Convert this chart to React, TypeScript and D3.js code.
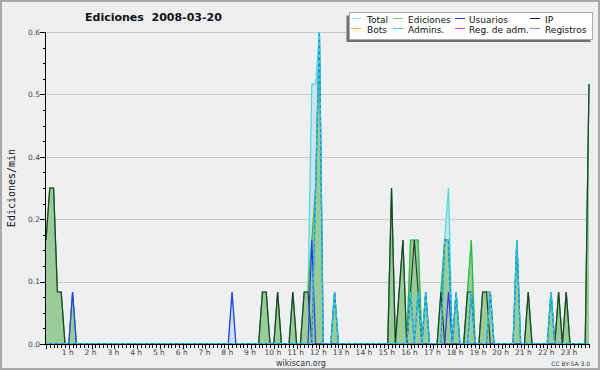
import React from 'react';
import * as d3 from 'd3';

// 10-minute bins (144 per day), values in edits/min
const totalValues = [
  0.2, 0.3, 0.3, 0.1, 0.1, 0, 0, 0.1, 0, 0, 0, 0,
  0, 0, 0, 0, 0, 0, 0, 0, 0, 0, 0, 0,
  0, 0, 0, 0, 0, 0, 0, 0, 0, 0, 0, 0,
  0, 0, 0, 0, 0, 0, 0, 0, 0, 0, 0, 0,
  0, 0.1, 0, 0, 0, 0, 0, 0, 0, 0.1, 0.1, 0,
  0, 0.1, 0, 0, 0, 0.1, 0, 0, 0.1, 0.1, 0.5, 0.5,
  0.6, 0, 0, 0, 0.1, 0, 0, 0, 0, 0, 0, 0,
  0, 0, 0, 0, 0, 0, 0, 0.3, 0, 0.1, 0.2, 0,
  0.2, 0.2, 0.2, 0, 0.1, 0, 0, 0, 0.1, 0.2, 0.3, 0,
  0.1, 0, 0, 0.1, 0.2, 0, 0, 0.1, 0.1, 0.1, 0, 0,
  0, 0, 0, 0, 0.2, 0, 0, 0.1, 0, 0, 0, 0,
  0, 0.1, 0, 0.1, 0, 0.1, 0, 0, 0, 0, 0, 0.5,
];

const editValues = [
  0.2, 0.3, 0.3, 0.1, 0.1, 0, 0, 0.1, 0, 0, 0, 0,
  0, 0, 0, 0, 0, 0, 0, 0, 0, 0, 0, 0,
  0, 0, 0, 0, 0, 0, 0, 0, 0, 0, 0, 0,
  0, 0, 0, 0, 0, 0, 0, 0, 0, 0, 0, 0,
  0, 0, 0, 0, 0, 0, 0, 0, 0, 0.1, 0.1, 0,
  0, 0.1, 0, 0, 0, 0.1, 0, 0, 0.1, 0.1, 0.2, 0.3,
  0.6, 0, 0, 0, 0.1, 0, 0, 0, 0, 0, 0, 0,
  0, 0, 0, 0, 0, 0, 0, 0.3, 0, 0.1, 0.2, 0,
  0.2, 0.2, 0.2, 0, 0.1, 0, 0, 0, 0.1, 0.2, 0.2, 0,
  0.1, 0, 0, 0.1, 0.2, 0, 0, 0.1, 0.1, 0.1, 0, 0,
  0, 0, 0, 0, 0.2, 0, 0, 0.1, 0, 0, 0, 0,
  0, 0.1, 0, 0.1, 0, 0.1, 0, 0, 0, 0, 0, 0.5,
];

const userValues = [
  0, 0, 0, 0, 0, 0, 0, 0.1, 0, 0, 0, 0,
  0, 0, 0, 0, 0, 0, 0, 0, 0, 0, 0, 0,
  0, 0, 0, 0, 0, 0, 0, 0, 0, 0, 0, 0,
  0, 0, 0, 0, 0, 0, 0, 0, 0, 0, 0, 0,
  0, 0.1, 0, 0, 0, 0, 0, 0, 0, 0, 0, 0,
  0, 0, 0, 0, 0, 0, 0, 0, 0, 0, 0.2, 0,
  0, 0, 0, 0, 0, 0, 0, 0, 0, 0, 0, 0,
  0, 0, 0, 0, 0, 0, 0, 0, 0, 0, 0, 0,
  0, 0, 0, 0, 0, 0, 0, 0, 0, 0, 0.1, 0,
  0, 0, 0, 0, 0, 0, 0, 0, 0, 0, 0, 0,
  0, 0, 0, 0, 0, 0, 0, 0, 0, 0, 0, 0,
  0, 0, 0, 0, 0, 0, 0, 0, 0, 0, 0, 0,
];

const ipValues = [
  0.2, 0.3, 0.3, 0.1, 0.1, 0, 0, 0, 0, 0, 0, 0,
  0, 0, 0, 0, 0, 0, 0, 0, 0, 0, 0, 0,
  0, 0, 0, 0, 0, 0, 0, 0, 0, 0, 0, 0,
  0, 0, 0, 0, 0, 0, 0, 0, 0, 0, 0, 0,
  0, 0, 0, 0, 0, 0, 0, 0, 0, 0.1, 0.1, 0,
  0, 0.1, 0, 0, 0, 0.1, 0, 0, 0.1, 0.1, 0, 0,
  0, 0, 0, 0, 0, 0, 0, 0, 0, 0, 0, 0,
  0, 0, 0, 0, 0, 0, 0, 0.3, 0, 0.1, 0.2, 0,
  0.1, 0.2, 0.1, 0, 0, 0, 0, 0, 0.1, 0, 0, 0,
  0, 0, 0, 0.1, 0.1, 0, 0, 0.1, 0.1, 0, 0, 0,
  0, 0, 0, 0, 0, 0, 0, 0.1, 0, 0, 0, 0,
  0, 0, 0, 0.1, 0, 0.1, 0, 0, 0, 0, 0, 0.5,
];

const adminValues = [
  0, 0, 0, 0, 0, 0, 0, 0, 0, 0, 0, 0,
  0, 0, 0, 0, 0, 0, 0, 0, 0, 0, 0, 0,
  0, 0, 0, 0, 0, 0, 0, 0, 0, 0, 0, 0,
  0, 0, 0, 0, 0, 0, 0, 0, 0, 0, 0, 0,
  0, 0, 0, 0, 0, 0, 0, 0, 0, 0, 0, 0,
  0, 0, 0, 0, 0, 0, 0, 0, 0, 0, 0, 0.3,
  0.6, 0, 0, 0, 0.1, 0, 0, 0, 0, 0, 0, 0,
  0, 0, 0, 0, 0, 0, 0, 0, 0, 0, 0, 0,
  0.1, 0, 0.1, 0, 0.1, 0, 0, 0, 0, 0.2, 0.2, 0,
  0.1, 0, 0, 0, 0.1, 0, 0, 0, 0, 0.1, 0, 0,
  0, 0, 0, 0, 0.2, 0, 0, 0, 0, 0, 0, 0,
  0, 0.1, 0, 0, 0, 0, 0, 0, 0, 0, 0, 0,
];

const hourLabels = [
  '1 h', '2 h', '3 h', '4 h', '5 h', '6 h', '7 h', '8 h', '9 h', '10 h', '11 h', '12 h',
  '13 h', '14 h', '15 h', '16 h', '17 h', '18 h', '19 h', '20 h', '21 h', '22 h', '23 h',
];
const yTickValues = [0, 0.12, 0.24, 0.36, 0.48, 0.6];
const yTickLabels = ['0.0', '0.1', '0.2', '0.4', '0.5', '0.6'];

const legendRows = [
  [
    { name: 'Total', color: '#9fe3e0' },
    { name: 'Ediciones', color: '#7ccc7c' },
    { name: 'Usuarios', color: '#3333dd' },
    { name: 'IP', color: '#222222' },
  ],
  [
    { name: 'Bots', color: '#f0a030' },
    { name: 'Admins.', color: '#3cc8e0' },
    { name: 'Reg. de adm.', color: '#d040e0' },
    { name: 'Registros', color: '#8080f0' },
  ],
];
const legendColX = [351, 393, 455, 530];
const legendTextX = [367, 408, 469, 545];

const FONT = 'DejaVu Sans, Verdana, sans-serif';

export default function App() {
  const left = 46, right = 589, top = 32, bottom = 344;
  const nBins = totalValues.length;
  const x = d3.scaleLinear().domain([0, nBins - 1]).range([left, right]);
  const y = d3.scaleLinear().domain([0, 0.6]).range([bottom, top]);

  const lineGen = d3.line<number>().x((_, i) => x(i)).y((d) => y(d));
  const areaGen = d3.area<number>().x((_, i) => x(i)).y0(y(0)).y1((d) => y(d));

  const minorY = d3.range(0, 21).map((k) => (0.6 * k) / 20);
  const binTicks = d3.range(0, nBins);

  return (
    <svg width={600} height={370} style={{ position: 'absolute', left: 0, top: 0 }} fontFamily={FONT}>
      <rect x={0} y={0} width={600} height={370} fill="#eeeff1" />
      <rect x={1} y={1} width={598} height={368} fill="none" stroke="#a8a8a8" strokeWidth={2} />

      {/* grid */}
      {yTickValues.slice(1).map((v, i) => (
        <line key={'g' + i} x1={left} x2={right} y1={Math.round(y(v)) + 0.5} y2={Math.round(y(v)) + 0.5} stroke="#c9c9c9" strokeWidth={1} />
      ))}

      {/* areas */}
      <path d={areaGen(totalValues) || ''} fill="#cfe0f2" />
      <path d={areaGen(editValues) || ''} fill="#99cc99" />

      {/* lines */}
      <path d={lineGen(totalValues) || ''} fill="none" stroke="#46dccf" strokeWidth={1.2} />
      <path d={lineGen(editValues) || ''} fill="none" stroke="#33b833" strokeWidth={1.2} />
      <path d={lineGen(ipValues) || ''} fill="none" stroke="#2b3a2b" strokeWidth={1.2} />
      <path d={lineGen(userValues) || ''} fill="none" stroke="#3535ee" strokeWidth={1.2} />
      <path d={lineGen(adminValues) || ''} fill="none" stroke="#1a8ed4" strokeWidth={1.3} />
      <path d={lineGen(adminValues) || ''} fill="none" stroke="#38d0ee" strokeWidth={1.3} strokeDasharray="3 3" />

      {/* y axis */}
      <line x1={left - 0.5} x2={left - 0.5} y1={top} y2={bottom + 0.5} stroke="#000" />
      {minorY.map((v, i) => (
        <line key={'my' + i} x1={left - 3} x2={left} y1={Math.round(y(v)) + 0.5} y2={Math.round(y(v)) + 0.5} stroke="#000" />
      ))}
      {yTickValues.map((v, i) => (
        <g key={'yt' + i}>
          <line x1={left - 6} x2={left} y1={Math.round(y(v)) + 0.5} y2={Math.round(y(v)) + 0.5} stroke="#000" />
          <text x={40} y={y(v) + 2.7} fontSize={7.5} textAnchor="end" fill="#444">{yTickLabels[i]}</text>
        </g>
      ))}

      {/* x axis */}
      <line x1={left - 0.5} x2={right} y1={bottom + 0.5} y2={bottom + 0.5} stroke="#000" />
      {binTicks.map((b) => (
        <line key={'bt' + b} x1={Math.round(x(b)) + 0.5} x2={Math.round(x(b)) + 0.5} y1={bottom} y2={bottom + (b % 6 === 0 ? 5 : 4)} stroke="#000" />
      ))}
      {hourLabels.map((lab, i) => (
        <text key={'xl' + i} x={x((i + 1) * 6) - 1} y={354.5} fontSize={7.5} textAnchor="middle" fill="#444">{lab}</text>
      ))}

      {/* y label */}
      <text transform={`translate(15,${(top + bottom) / 2}) rotate(-90)`} textAnchor="middle" fontSize={10} fontFamily="DejaVu Sans Mono, monospace" fill="#111">Ediciones/min</text>

      {/* title */}
      <text x={85} y={21} fontSize={11} fontWeight="bold" fill="#111" style={{ whiteSpace: 'pre' }}>{'Ediciones  2008-03-20'}</text>

      {/* legend */}
      <rect x={346.5} y={15.5} width={244} height={26.5} fill="#707070" />
      <rect x={349.5} y={12.5} width={243} height={27} fill="#ffffff" stroke="#aaaaaa" strokeWidth={1} />
      {legendRows.map((row, r) =>
        row.map((item, c) => (
          <g key={'lg' + r + '-' + c}>
            <line x1={legendColX[c]} x2={legendColX[c] + 10} y1={r === 0 ? 18.5 : 28.5} y2={r === 0 ? 18.5 : 28.5} stroke={item.color} strokeWidth={1} />
            <text x={legendTextX[c]} y={r === 0 ? 22.5 : 32.5} fontSize={9} fill="#111">{item.name}</text>
          </g>
        ))
      )}

      {/* footer */}
      <text x={301} y={366} fontSize={8} textAnchor="middle" fill="#333">wikiscan.org</text>
      <text x={590} y={366} fontSize={6} textAnchor="end" fill="#333">CC BY-SA 3.0</text>
    </svg>
  );
}
